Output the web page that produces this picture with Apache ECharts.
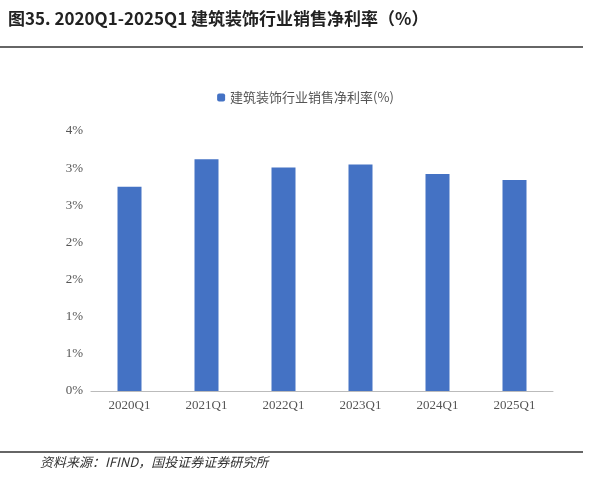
<!DOCTYPE html>
<html><head><meta charset="utf-8">
<script src="https://cdn.jsdelivr.net/npm/echarts@6/dist/echarts.min.js"></script>
<style>body{margin:0}#main{width:611px;height:480px}</style>
</head><body><div id="main"></div>
<script>
var categories = ['2020Q1', '2021Q1', '2022Q1', '2023Q1', '2024Q1', '2025Q1'];
var values = [2.75, 3.12, 3.01, 3.05, 2.92, 2.84];
var seriesName = '建筑装饰行业销售净利率(%)';

var myChart = echarts.init(document.getElementById('main'));
var option = {
  graphic: [
    {type: 'text', left: 8, top: 10, style: {text: '图35. 2020Q1-2025Q1 建筑装饰行业销售净利率（%）', font: 'bold 17px "Noto Sans CJK SC"', fill: '#222'}},
    {type: 'line', shape: {x1: 0, y1: 47, x2: 583, y2: 47}, style: {stroke: '#333', lineWidth: 1.5}},
    {type: 'line', shape: {x1: 0, y1: 452, x2: 583, y2: 452}, style: {stroke: '#333', lineWidth: 1.5}},
    {type: 'text', left: 40, top: 456, style: {text: '资料来源：IFIND，国投证券证券研究所', font: 'italic 13px "Noto Sans CJK SC"', fill: '#333'}}
  ],
  legend: {
    data: [seriesName], top: 86, left: 'center',
    itemWidth: 8, itemHeight: 8,
    textStyle: {fontFamily: 'Noto Sans CJK SC', fontSize: 13, color: '#555'}
  },
  grid: {left: 91, right: 58, top: 131, bottom: 89},
  xAxis: {
    type: 'category', data: categories,
    axisLine: {lineStyle: {color: '#bbb'}}, axisTick: {show: false},
    axisLabel: {color: '#555', fontFamily: 'Liberation Serif', fontSize: 13}
  },
  yAxis: {
    type: 'value', min: 0, max: 3.5, interval: 0.5,
    axisLine: {show: false}, splitLine: {show: false},
    axisLabel: {color: '#555', fontFamily: 'Liberation Serif', fontSize: 13,
      formatter: function (v) { return Math.round(v + 1e-9) + '%'; }}
  },
  series: [{name: seriesName, type: 'bar', data: values, barWidth: 24, itemStyle: {color: '#4472C4'}}]
};
myChart.setOption(option);
</script></body></html>
